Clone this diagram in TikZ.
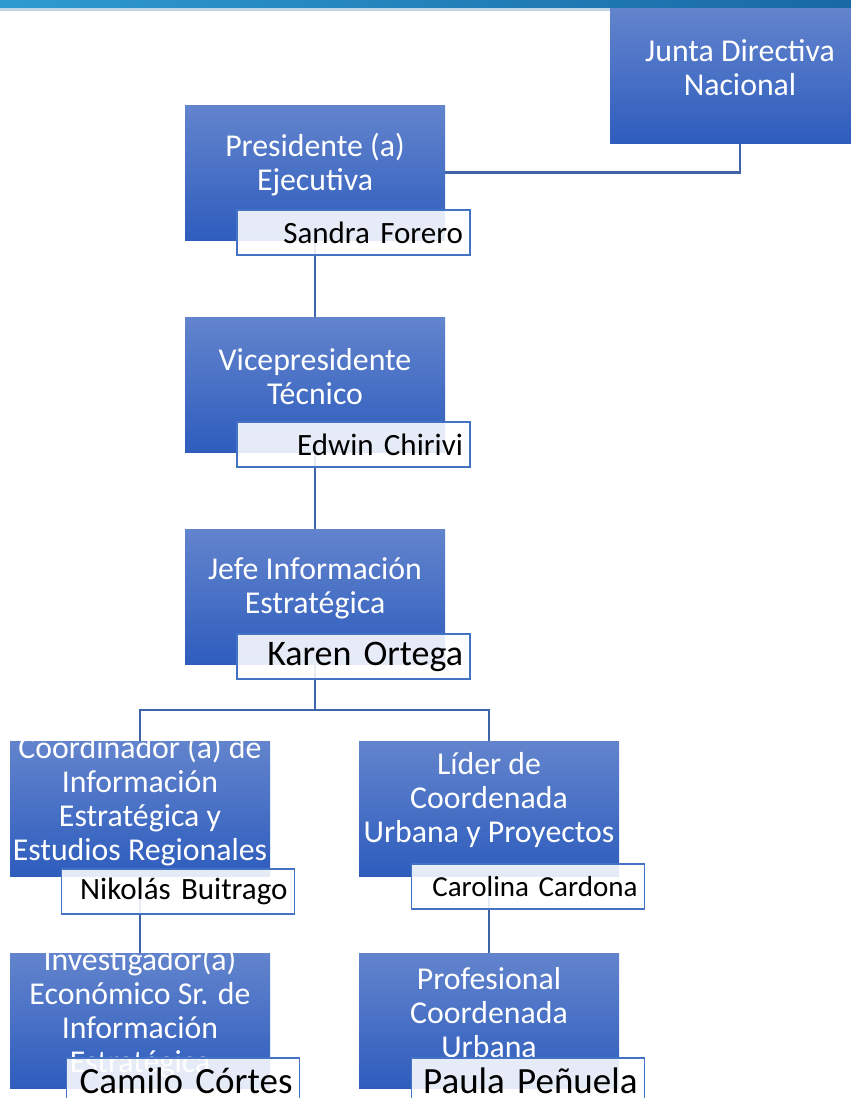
\documentclass[tikz,border=0pt]{standalone}
\usepackage{fontspec}
\setmainfont{Carlito}
\usetikzlibrary{backgrounds}
\definecolor{barleft}{RGB}{46,155,208}
\definecolor{barright}{RGB}{24,104,165}
\definecolor{barline}{RGB}{190,214,232}
\definecolor{unittop}{RGB}{99,132,205}
\definecolor{unitbot}{RGB}{46,93,189}
\definecolor{namedge}{RGB}{68,114,196}
\definecolor{linkblue}{RGB}{62,99,166}
\tikzset{
    unit/.style={draw=none, top color=unittop, bottom color=unitbot, minimum width=260pt, minimum height=135pt, inner sep=0pt},
    unittext/.style={text=white, align=center, font=\fontsize{31.8}{34}\selectfont, yshift=8pt},
    person/.style={draw=namedge, line width=1.5pt, fill=white, fill opacity=0.88, text opacity=1, text=black, text width=219pt, inner xsep=7pt, inner ysep=0pt, minimum height=45pt, align=right, font=\fontsize{31}{34}\selectfont},
    link/.style={draw=linkblue, line width=2.8pt}
}

\begin{document}
\begin{tikzpicture}[x=1pt, y=-1pt]
    \useasboundingbox (0,0) rectangle (851,1098);
    \clip (0,0) rectangle (851,1098);
    \shade[left color=barleft, right color=barright] (0,0) rectangle (851,8);
    \fill[barline] (0,8) rectangle (851,10.5);

    \node[unit] (junta) at (740,75.5) {};
    \node[unit] (pres) at (315,172.5) {};
    \node[unit] (vice) at (315,384.5) {};
    \node[unit] (jefe) at (315,596.5) {};
    \node[unit] (coord) at (140,808.5) {};
    \node[unit] (lider) at (489,808.5) {};
    \node[unit] (invest) at (140,1020.5) {};
    \node[unit] (prof) at (489,1020.5) {};

    \node[unittext] (juntaT) at (junta) {Junta Directiva\\Nacional};
    \node[unittext] (presT) at (pres) {Presidente (a)\\Ejecutiva};
    \node[unittext] (viceT) at (vice) {Vicepresidente\\Técnico};
    \node[unittext] (jefeT) at (jefe) {Jefe Información\\Estratégica};
    \node[unittext] (coordT) at (coord) {Coordinador (a) de\\Información\\Estratégica y\\Estudios Regionales};
    \node[unittext] (liderT) at (lider) {Líder de\\Coordenada\\Urbana y Proyectos};
    \node[unittext] (investT) at (invest) {Investigador(a)\\Económico Sr. de\\Información\\Estratégica};
    \node[unittext] (profT) at (prof) {Profesional\\Coordenada\\Urbana};

    \node[person] (sandra) at (353.5,232.5) {Sandra Forero};
    \node[person] (edwin) at (353.5,444.5) {Edwin Chirivi};
    \node[person, font=\fontsize{36}{38}\selectfont] (karen) at (353.5,656.5) {Karen Ortega};
    \node[person] (nikolas) at (178,891.5) {Nikolás Buitrago};
    \node[person, font=\fontsize{29}{32}\selectfont] (carolina) at (528,886.5) {Carolina Cardona};
    \node[person, font=\fontsize{37}{40}\selectfont] (camilo) at (183,1080.5) {Camilo Córtes};
    \node[person, font=\fontsize{37}{40}\selectfont] (paula) at (528,1080.5) {Paula Peñuela};

    \coordinate (split) at (315,710);

    \begin{pgfonlayer}{background}
        \fill[white] (0,0) rectangle (851,1098);
        \draw[link] (pres) -| (junta);
        \draw[link] (pres) -- (vice);
        \draw[link] (vice) -- (jefe);
        \draw[link] (jefe) -- (split) -| (coord);
        \draw[link] (split) -| (lider);
        \draw[link] (coord) -- (invest);
        \draw[link] (lider) -- (prof);
    \end{pgfonlayer}
\end{tikzpicture}
\end{document}
